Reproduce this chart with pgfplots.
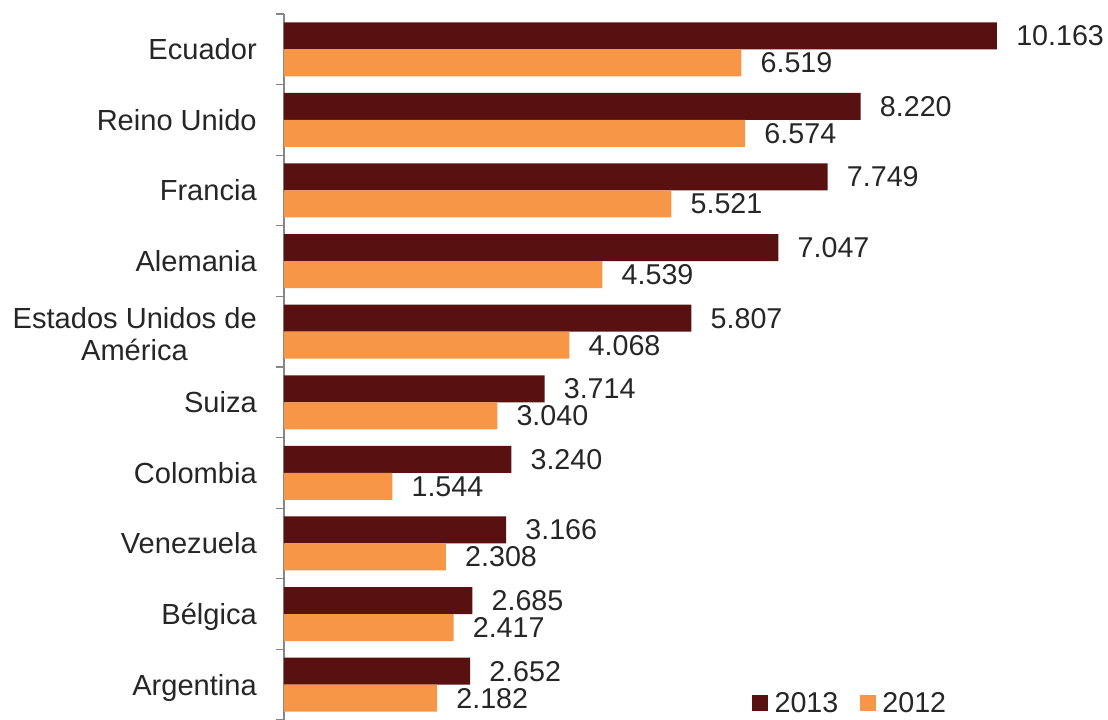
\documentclass[border=0pt]{standalone}
\usepackage{pgfplots}
\pgfplotsset{compat=1.18}
\usepackage{fontspec}
\setmainfont{Liberation Sans}
\definecolor{c2013}{RGB}{88,17,16}
\definecolor{c2012}{RGB}{247,150,70}
\definecolor{txt}{RGB}{38,38,38}
\definecolor{axc}{RGB}{134,134,134}
\begin{document}
\begin{tikzpicture}
\begin{axis}[
 at={(0,0)}, anchor=south west,
 scale only axis, width=534.75pt, height=529.5pt,
 xmin=0, xmax=10.163, ymin=-0.5, ymax=9.5,
 clip=false,
 xbar, bar width=20.25pt,
 axis y line*=left, axis x line=none,
 y axis line style={color=axc, line width=0.8pt},
 xtick=\empty,
 ytick={0,...,9},
 yticklabels={Argentina, Bélgica, Venezuela, Colombia, Suiza, {\raisebox{10.5pt}{\begin{tabular}[t]{@{}r@{}}Estados Unidos de\\América\hspace*{51.75pt}\end{tabular}}}, Alemania, Francia, Reino Unido, Ecuador},
 major tick length=0pt,
 tick align=outside,
 extra y ticks={-0.5,0.5,...,9.5},
 extra y tick labels={},
 extra y tick style={major tick length=6pt, tick style={color=axc, line width=0.8pt}},
 yticklabel style={anchor=base east, inner sep=0pt, xshift=-20.25pt, yshift=-7.8pt, font=\fontsize{21.8}{24}\selectfont, text=txt},
 nodes near coords,
 every node near coord/.append style={anchor=west, inner sep=0pt, xshift=14.25pt, font=\fontsize{21.5}{24}\selectfont, text=txt},
 /pgf/number format/fixed, /pgf/number format/fixed zerofill, /pgf/number format/precision=3, /pgf/number format/assume math mode=true,
 legend columns=2,
 legend image code/.code={\fill[#1] (0pt,-6pt) rectangle (12pt,6pt);},
 legend style={at={(axis cs:6.67,-0.26)}, anchor=west, draw=none, fill=none, inner sep=0pt, outer sep=0pt,
   nodes={inner sep=0pt, text=txt, font=\fontsize{21.5}{24}\selectfont}},
]
\addplot[fill=c2013, draw=none, bar shift=10.125pt] coordinates {(2.652,0) (2.685,1) (3.166,2) (3.240,3) (3.714,4) (5.807,5) (7.047,6) (7.749,7) (8.220,8) (10.163,9)};
\addplot[fill=c2012, draw=none, bar shift=-10.125pt] coordinates {(2.182,0) (2.417,1) (2.308,2) (1.544,3) (3.040,4) (4.068,5) (4.539,6) (5.521,7) (6.574,8) (6.519,9)};
\legend{\hspace*{5pt}2013\hspace*{16pt},\hspace*{5pt}2012}
\end{axis}
\pgfresetboundingbox
\useasboundingbox (-213pt,0) rectangle (618pt,540pt);
\end{tikzpicture}
\end{document}
